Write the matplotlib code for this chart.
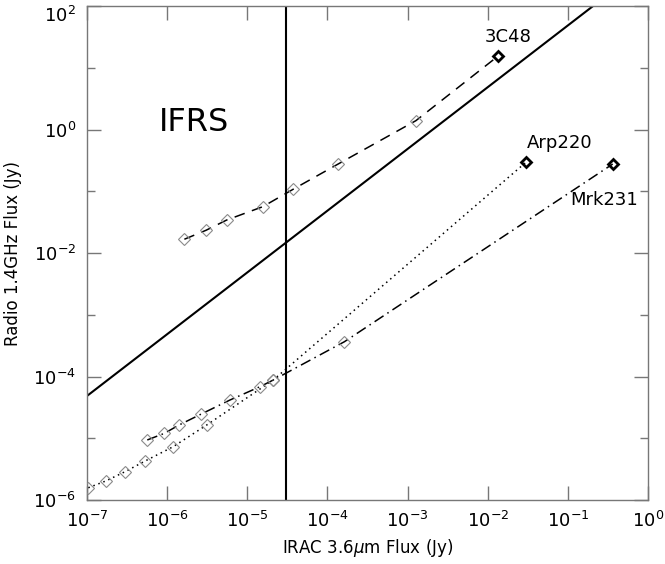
import math
import matplotlib
matplotlib.use("Agg")
import matplotlib.pyplot as plt
from matplotlib.ticker import FuncFormatter, FixedLocator

# ---- data ----
c3c48_x = [1.64e-6, 3.05e-6, 5.53e-6, 1.56e-5, 3.75e-5, 1.36e-4, 1.27e-3, 1.35e-2]
c3c48_y = [1.67e-2, 2.33e-2, 3.42e-2, 5.62e-2, 0.108, 0.276, 1.39, 15.5]

arp220_x = [1.04e-7, 1.71e-7, 2.98e-7, 5.33e-7, 1.19e-6, 3.12e-6, 2.11e-5, 3.03e-2]
arp220_y = [1.58e-6, 2.03e-6, 2.87e-6, 4.29e-6, 7.30e-6, 1.64e-5, 8.77e-5, 0.298]

mrk231_x = [5.65e-7, 9.23e-7, 1.41e-6, 2.62e-6, 6.08e-6, 1.44e-5, 2.11e-5, 1.63e-4, 0.363]
mrk231_y = [9.38e-6, 1.20e-5, 1.64e-5, 2.44e-5, 4.16e-5, 6.84e-5, 8.77e-5, 3.66e-4, 0.276]

ifrs_ir_limit = 3e-5          # vertical line (Jy)
ifrs_ratio = 10 ** 2.685      # radio / IR ratio line
ratio_line_x = [1e-7, 1.0]

x_ticks = [1e-7, 1e-6, 1e-5, 1e-4, 1e-3, 1e-2, 1e-1, 1e0]
y_major = [1e-6, 1e-4, 1e-2, 1e0, 1e2]
y_minor = [1e-5, 1e-3, 1e-1, 1e1]

xlim = (1e-7, 1e0)
ylim = (1e-6, 1e2)

fig = plt.figure(figsize=(6.65, 5.64), dpi=100)
ax = fig.add_axes([87 / 665, 1 - 500 / 564, (648 - 87) / 665, (500 - 6) / 564])
ax.set_xscale("log")
ax.set_yscale("log")
ax.set_xlim(*xlim)
ax.set_ylim(*ylim)

gray = "#8a8a8a"
spine_c = "#777777"

# ratio line and IR limit
ax.plot(ratio_line_x, [v * ifrs_ratio for v in ratio_line_x], color="black", lw=1.5)
ax.axvline(ifrs_ir_limit, color="black", lw=1.5)


def track(xs, ys, ls):
    ax.plot(xs, ys, color="black", lw=1.1, linestyle=ls, zorder=3)
    ax.plot(xs[:-1], ys[:-1], linestyle="none", marker="D", ms=6,
            mfc="none", mec=gray, mew=0.8, zorder=4)
    ax.plot(xs[-1:], ys[-1:], linestyle="none", marker="D", ms=5,
            mfc="none", mec="black", mew=2.0, zorder=5)


track(c3c48_x, c3c48_y, (0, (7, 5)))
track(arp220_x, arp220_y, (0, (1, 2.5)))
track(mrk231_x, mrk231_y, (0, (7, 3, 1, 3)))

ax.text(0.0179, 31.5, "3C48", fontsize=13, ha="center", va="center")
ax.text(0.0798, 0.604, "Arp220", fontsize=13, ha="center", va="center")
ax.text(0.2826, 0.0721, "Mrk231", fontsize=13, ha="center", va="center")
ax.text(2.16e-6, 1.32, "IFRS", fontsize=23, ha="center", va="center")

# ticks
ax.xaxis.set_major_locator(FixedLocator(x_ticks))
ax.xaxis.set_minor_locator(FixedLocator([]))
ax.yaxis.set_major_locator(FixedLocator(y_major))
ax.yaxis.set_minor_locator(FixedLocator(y_minor))


def fmt(v, pos):
    e = int(round(math.log10(v)))
    return r"$10^{%d}$" % e


ax.xaxis.set_major_formatter(FuncFormatter(fmt))
ax.yaxis.set_major_formatter(FuncFormatter(fmt))
ax.yaxis.set_minor_formatter(FuncFormatter(lambda v, p: ""))
ax.tick_params(axis="both", which="major", direction="in", length=10, width=1,
               color=spine_c, labelsize=13, top=True, right=True, pad=8)
ax.tick_params(axis="y", which="minor", direction="in", length=6, width=1,
               color=spine_c, left=True, right=True)
for s in ax.spines.values():
    s.set_color(spine_c)
    s.set_linewidth(1)

ax.set_xlabel(r"IRAC 3.6$\mu$m Flux (Jy)", fontsize=12, labelpad=4)
ax.set_ylabel("Radio 1.4GHz Flux (Jy)", fontsize=12, labelpad=8)

# keep the top y label inside the figure
top_tick = ax.yaxis.get_major_ticks()[-1]
top_tick.label1.set_verticalalignment("top")

fig.savefig("out.png", dpi=100)
